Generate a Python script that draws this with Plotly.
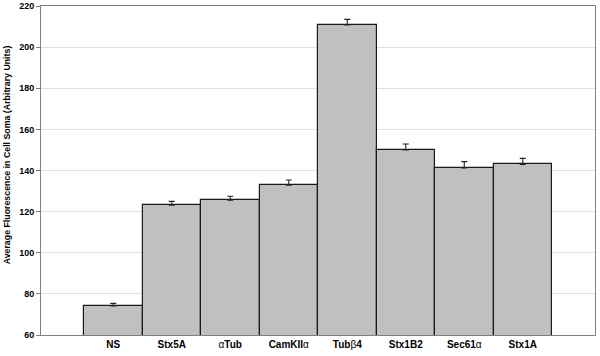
import plotly.graph_objects as go

categories = ["<b>NS</b>", "<b>Stx5A</b>", "α<b>Tub</b>", "<b>CamKII</b>α", "<b>Tub</b>β<b>4</b>",
              "<b>Stx1B2</b>", "<b>Sec61</b>α", "<b>Stx1A</b>"]
values = [74.1, 123.1, 125.5, 132.9, 210.8, 150.0, 141.2, 143.0]
errors = [1.3, 1.9, 2.0, 2.5, 2.7, 2.9, 3.1, 2.9]
y_ticks = [60, 80, 100, 120, 140, 160, 180, 200, 220]
y_title = "<b>Average Fluorescence in Cell Soma (Arbitrary Units)</b>"

x_idx = list(range(len(categories)))

fig = go.Figure()
fig.add_trace(go.Bar(
    x=x_idx, y=values,
    marker=dict(color="#c0c0c0", line=dict(color="#1a1a1a", width=1.2)),
    error_y=dict(type="data", array=errors, symmetric=False, arrayminus=[0]*len(errors),
                 color="#222222", thickness=1.1, width=3),
    width=1.0,
))

fig.update_layout(
    width=600, height=356,
    margin=dict(l=41, r=5, t=6, b=21, autoexpand=False),
    plot_bgcolor="white", paper_bgcolor="white",
    showlegend=False,
    bargap=0,
    font=dict(family="Liberation Sans, Arial, sans-serif", color="#000000"),
    xaxis=dict(
        tickmode="array", tickvals=x_idx, ticktext=categories,
        range=[-1.235, 8.235], automargin=False,
        showline=True, linecolor="#808080", linewidth=1, mirror=True,
        showgrid=False, ticks="", tickfont=dict(size=10), ticklabelstandoff=0,
    ),
    yaxis=dict(
        range=[60, 220], tickvals=y_ticks, automargin=False,
        ticktext=[f"<b>{v}</b>" for v in y_ticks],
        showline=True, linecolor="#808080", linewidth=1, mirror=True,
        showgrid=True, gridcolor="#e0e0e0", gridwidth=1,
        ticks="outside", ticklen=4, tickcolor="#808080",
        tickfont=dict(size=9),
        zeroline=False,
    ),
    annotations=[dict(
        text=y_title, xref="paper", yref="paper", x=0, y=0.546,
        xanchor="center", yanchor="middle", xshift=-34, textangle=-90,
        showarrow=False, font=dict(size=8.8, color="#000000"),
    )],
)

fig.write_html("out.html", config={"displayModeBar": False},
               post_script="document.body.style.margin='0';document.body.style.padding='0';")
